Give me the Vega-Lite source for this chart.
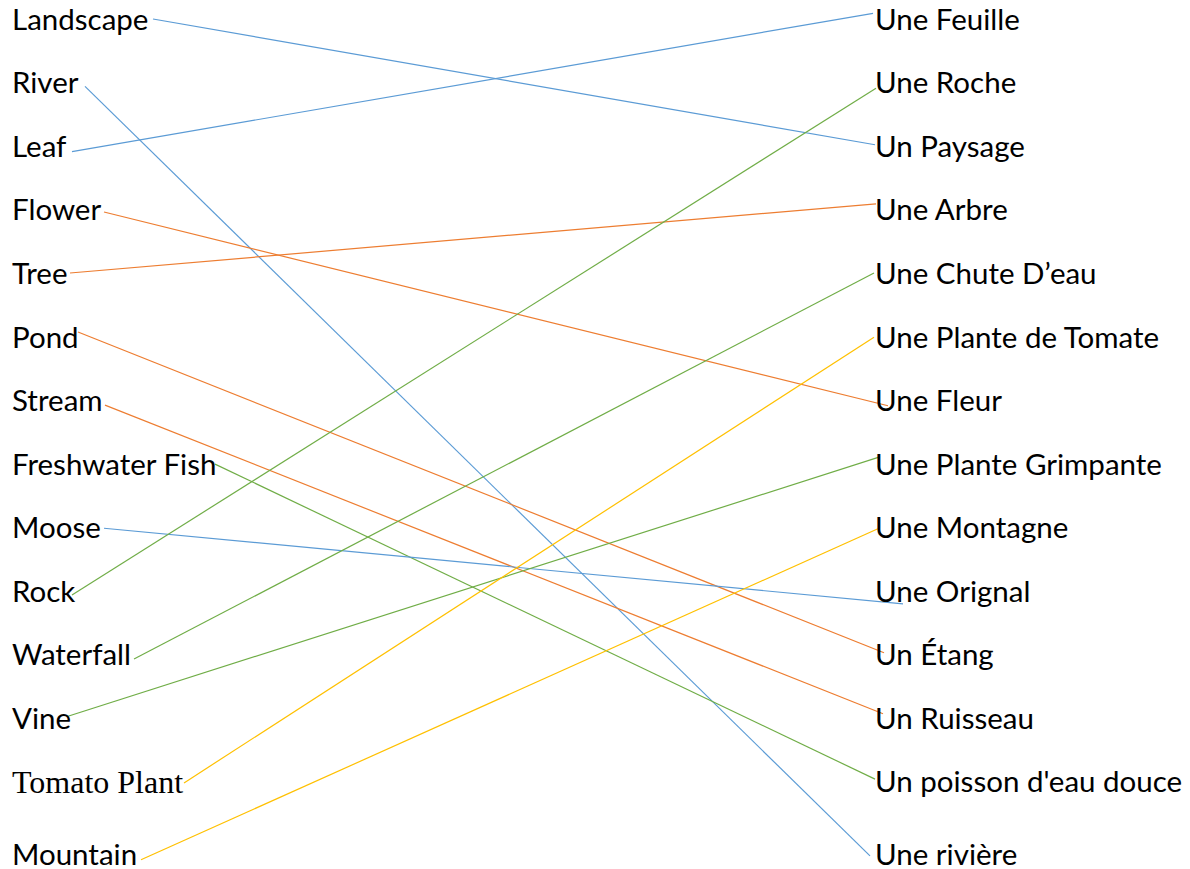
{
  "$schema": "https://vega.github.io/schema/vega-lite/v6.json",
  "width": 1190,
  "height": 869,
  "padding": 0,
  "autosize": {"type": "none"},
  "background": "white",
  "config": {"view": {"stroke": null}},
  "datasets": {
    "words": [
      {"label": "Landscape", "side": 12, "row": 0, "serif": false},
      {"label": "River", "side": 12, "row": 1, "serif": false},
      {"label": "Leaf", "side": 12, "row": 2, "serif": false},
      {"label": "Flower", "side": 12, "row": 3, "serif": false},
      {"label": "Tree", "side": 12, "row": 4, "serif": false},
      {"label": "Pond", "side": 12, "row": 5, "serif": false},
      {"label": "Stream", "side": 12, "row": 6, "serif": false},
      {"label": "Freshwater Fish", "side": 12, "row": 7, "serif": false},
      {"label": "Moose", "side": 12, "row": 8, "serif": false},
      {"label": "Rock", "side": 12, "row": 9, "serif": false},
      {"label": "Waterfall", "side": 12, "row": 10, "serif": false},
      {"label": "Vine", "side": 12, "row": 11, "serif": false},
      {"label": "Tomato Plant", "side": 12, "row": 12, "serif": true},
      {"label": "Mountain", "side": 12, "row": 13.15, "serif": false},
      {"label": "Une Feuille", "side": 875, "row": 0, "serif": false},
      {"label": "Une Roche", "side": 875, "row": 1, "serif": false},
      {"label": "Un Paysage", "side": 875, "row": 2, "serif": false},
      {"label": "Une Arbre", "side": 875, "row": 3, "serif": false},
      {"label": "Une Chute D’eau", "side": 875, "row": 4, "serif": false},
      {"label": "Une Plante de Tomate", "side": 875, "row": 5, "serif": false},
      {"label": "Une Fleur", "side": 875, "row": 6, "serif": false},
      {"label": "Une Plante Grimpante", "side": 875, "row": 7, "serif": false},
      {"label": "Une Montagne", "side": 875, "row": 8, "serif": false},
      {"label": "Une Orignal", "side": 875, "row": 9, "serif": false},
      {"label": "Un Étang", "side": 875, "row": 10, "serif": false},
      {"label": "Un Ruisseau", "side": 875, "row": 11, "serif": false},
      {"label": "Un poisson d'eau douce", "side": 875, "row": 12, "serif": false},
      {"label": "Une rivière", "side": 875, "row": 13.15, "serif": false}
    ],
    "links": [
      {"from": "Landscape", "x0": 153, "r0": 0, "x1": 875, "r1": 1.98, "group": "blue"},
      {"from": "River", "x0": 85, "r0": 1.06, "x1": 870, "r1": 13.18, "group": "blue"},
      {"from": "Leaf", "x0": 72, "r0": 2.09, "x1": 873, "r1": -0.09, "group": "blue"},
      {"from": "Flower", "x0": 104, "r0": 3.04, "x1": 888, "r1": 6.09, "group": "orange"},
      {"from": "Tree", "x0": 70, "r0": 4.0, "x1": 876, "r1": 2.91, "group": "orange"},
      {"from": "Pond", "x0": 78, "r0": 4.93, "x1": 884, "r1": 9.98, "group": "orange"},
      {"from": "Stream", "x0": 105, "r0": 6.08, "x1": 883, "r1": 10.94, "group": "orange"},
      {"from": "Freshwater Fish", "x0": 215, "r0": 7.01, "x1": 875, "r1": 11.97, "group": "green"},
      {"from": "Moose", "x0": 104, "r0": 8.02, "x1": 903, "r1": 9.21, "group": "blue"},
      {"from": "Rock", "x0": 72, "r0": 9.07, "x1": 876, "r1": 1.09, "group": "green"},
      {"from": "Waterfall", "x0": 134, "r0": 10.08, "x1": 874, "r1": 4.0, "group": "green"},
      {"from": "Vine", "x0": 68, "r0": 10.98, "x1": 879, "r1": 6.9, "group": "green"},
      {"from": "Tomato Plant", "x0": 184, "r0": 12.03, "x1": 874, "r1": 5.01, "group": "yellow"},
      {"from": "Mountain", "x0": 141, "r0": 13.24, "x1": 879, "r1": 8.02, "group": "yellow"}
    ]
  },
  "layer": [
    {
      "data": {"name": "links"},
      "mark": {"type": "rule", "strokeWidth": 1.2},
      "encoding": {
        "x": {"field": "x0", "type": "quantitative", "scale": {"domain": [0, 1190], "nice": false, "zero": false}, "axis": null},
        "x2": {"field": "x1"},
        "y": {"field": "r0", "type": "quantitative", "scale": {"domain": [-0.2992, 13.3858], "nice": false, "zero": false, "reverse": true}, "axis": null},
        "y2": {"field": "r1"},
        "color": {"field": "group", "type": "nominal", "legend": null,
          "scale": {"domain": ["blue", "orange", "green", "yellow"], "range": ["#5B9BD5", "#ED7D31", "#70AD47", "#FFC000"]}}
      }
    },
    {
      "data": {"name": "words"},
      "transform": [{"filter": "!datum.serif"}],
      "mark": {"type": "text", "align": "left", "baseline": "middle", "font": "Lato", "fontSize": 29.5, "dy": 2, "color": "#000000"},
      "encoding": {
        "x": {"field": "side", "type": "quantitative"},
        "y": {"field": "row", "type": "quantitative"},
        "text": {"field": "label"}
      }
    },
    {
      "data": {"name": "words"},
      "transform": [{"filter": "datum.serif"}],
      "mark": {"type": "text", "align": "left", "baseline": "middle", "font": "Liberation Serif", "fontSize": 32, "dy": 2, "color": "#000000"},
      "encoding": {
        "x": {"field": "side", "type": "quantitative"},
        "y": {"field": "row", "type": "quantitative"},
        "text": {"field": "label"}
      }
    }
  ]
}
